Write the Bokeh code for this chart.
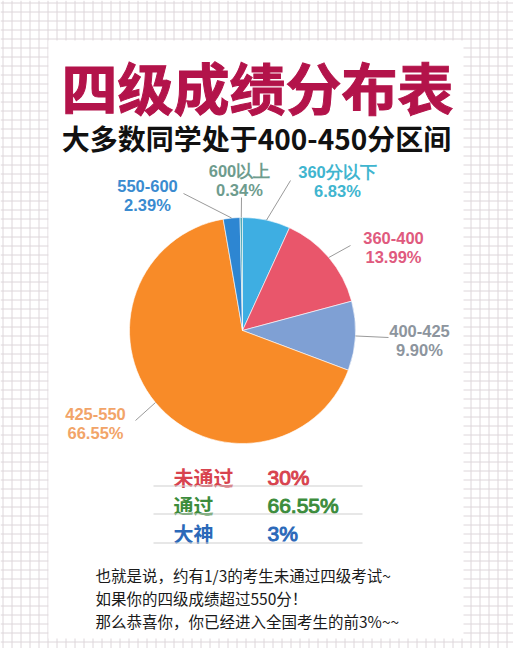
import numpy as np
from bokeh.plotting import figure
from bokeh.models import Range1d, ColumnDataSource
from bokeh.core.properties import value
from bokeh.embed import file_html
from bokeh.resources import INLINE

# ---------------- data ----------------
title = "四级成绩分布表"
subtitle = "大多数同学处于400-450分区间"
slice_names = ["360分以下", "360-400", "400-425", "425-550", "550-600", "600以上"]
slice_pcts = [6.83, 13.99, 9.90, 66.55, 2.39, 0.34]
status_names = ["未通过", "通过", "大神"]
status_pcts = ["30%", "66.55%", "3%"]
notes = [
    "也就是说，约有1/3的考生未通过四级考试~",
    "如果你的四级成绩超过550分！",
    "那么恭喜你，你已经进入全国考生的前3%~~",
]

# ---------------- styles / layout ----------------
slice_colors = ["#3eaee2", "#e9566b", "#7fa0d4", "#f88b28", "#2d86d2", "#4fa9b8"]
label_colors = ["#40b5cf", "#e05a7e", "#8d959e", "#f2a468", "#3a8bd0", "#6e9c8e"]
label_pos = [(337, 171), (393, 237), (419, 330), (95, 413), (147, 185), (239, 170)]
leader_end = [(290, 180), (350, 245), (388, 337), (135, 420), (183, 193), (241, 197)]
status_colors = ["#d8434e", "#3c8c3c", "#2b69b9"]

W, H = 513, 648
def Y(y):
    return H - np.asarray(y, dtype=float)

CX, CY, R = 242, 330, 113

p = figure(width=W, height=H, x_range=Range1d(0, W), y_range=Range1d(0, H),
           output_backend="svg", toolbar_location=None, min_border=0,
           x_axis_location=None, y_axis_location=None)
p.grid.visible = False
p.outline_line_color = None
p.background_fill_color = "white"
p.border_fill_color = "white"

# grid paper background
gx = np.arange(2.5, W, 9.0)
gy = np.arange(2.5, H, 9.0)
p.segment(x0=gx, y0=np.full(len(gx), 0.0), x1=gx, y1=np.full(len(gx), float(H)),
          line_color="#ddd6da", line_width=1)
p.segment(x0=np.zeros(len(gy)), y0=Y(gy), x1=np.full(len(gy), float(W)), y1=Y(gy),
          line_color="#ddd6da", line_width=1)

# white card
p.quad(left=[48], right=[463], top=[float(Y(40))], bottom=[float(Y(638))],
       fill_color="white", line_color=None)

# title and subtitle
p.text(x=[257], y=[float(Y(85))], text=[title], text_align="center", text_baseline="middle",
       text_font=value("Noto Sans CJK SC"), text_font_style="bold",
       text_font_size="56px", text_color="#b3134a", text_outline_color="#b3134a")
p.text(x=[256], y=[float(Y(137))], text=[subtitle], text_align="center", text_baseline="middle",
       text_font=value("Noto Sans CJK SC"), text_font_style="bold",
       text_font_size="28px", text_color="#111111")

# pie
vals = np.array(slice_pcts)
cum_after = np.cumsum(vals)
cum_before = cum_after - vals
start = np.pi / 2 - 2 * np.pi * cum_before / 100.0
end = np.pi / 2 - 2 * np.pi * cum_after / 100.0
src = ColumnDataSource(dict(start=start, end=end, color=slice_colors))
p.wedge(x=CX, y=float(Y(CY)), radius=R, start_angle="start", end_angle="end",
        direction="clock", fill_color="color", line_color="white", line_width=0.6,
        source=src)

# leader lines from slice mid-angle to labels
mid = np.pi / 2 - 2 * np.pi * (cum_before + vals / 2) / 100.0
sx = CX + R * np.cos(mid)
sy = Y(CY) + R * np.sin(mid)
ex = [e[0] for e in leader_end]
ey = Y([e[1] for e in leader_end])
p.segment(x0=sx, y0=sy, x1=ex, y1=ey, line_color="#9a9a9a", line_width=1)

# slice labels
lx = [lp[0] for lp in label_pos]
ly1 = Y([lp[1] for lp in label_pos])
ly2 = Y([lp[1] + 19 for lp in label_pos])
pct_text = [f"{v:.2f}%" for v in slice_pcts]
p.text(x=lx, y=ly1, text=slice_names, text_align="center", text_baseline="middle",
       text_font=value("Liberation Sans"), text_font_style="bold",
       text_font_size="16.5px", text_color=label_colors)
p.text(x=lx, y=ly2, text=pct_text, text_align="center", text_baseline="middle",
       text_font=value("Liberation Sans"), text_font_style="bold",
       text_font_size="16.5px", text_color=label_colors)

# summary table
row_y = [477, 505, 533]
p.text(x=[173] * 3, y=Y(row_y), text=status_names, text_align="left",
       text_baseline="middle", text_font=value("Noto Sans CJK SC"), text_font_style="bold",
       text_font_size="20px", text_color=status_colors)
p.text(x=[267] * 3, y=Y(row_y), text=status_pcts, text_align="left",
       text_baseline="middle", text_font=value("Liberation Sans"),
       text_font_size="21px", text_color=status_colors, text_outline_color=status_colors)
sep_y = [485.5, 513.5, 542.5]
p.segment(x0=[153] * 3, y0=Y(sep_y), x1=[362] * 3, y1=Y(sep_y),
          line_color="#cfcfcf", line_width=1.2)

# notes
note_y = [574, 597, 620]
p.text(x=[95] * 3, y=Y(note_y), text=notes, text_align="left",
       text_baseline="middle", text_font=value("Noto Sans CJK SC"),
       text_font_size="15.5px", text_color="#1a1a1a")

open("out.html", "w").write(file_html(p, INLINE))
